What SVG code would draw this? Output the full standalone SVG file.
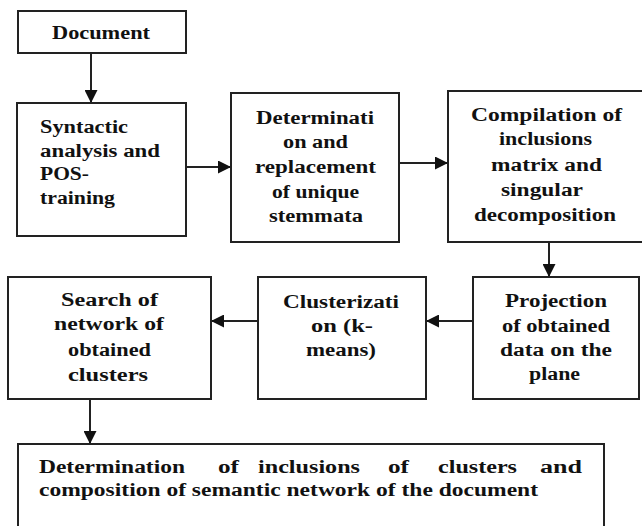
<svg xmlns="http://www.w3.org/2000/svg" width="642" height="526" viewBox="0 0 642 526">
<defs>
<style>
.box{fill:#fff;stroke:#222;stroke-width:2}
.t{font-family:"Liberation Serif","Times New Roman",serif;font-weight:bold;font-size:18px;fill:#111}
.c{text-anchor:middle}
.ln{stroke:#222;stroke-width:2;fill:none;marker-end:url(#ah)}
</style>
<marker id="ah" markerUnits="userSpaceOnUse" markerWidth="14" markerHeight="13" refX="13" refY="6.5" orient="auto">
<path d="M0,0 L13,6.5 L0,13 Z" fill="#111"/>
</marker>
</defs>
<rect width="642" height="526" fill="#fff"/>
<g id="connectors">
<line class="ln" x1="91" y1="53" x2="91" y2="103"/>
<line class="ln" x1="186" y1="167" x2="231" y2="167"/>
<line class="ln" x1="399" y1="163" x2="448" y2="163"/>
<line class="ln" x1="549" y1="242" x2="549" y2="277"/>
<line class="ln" x1="473" y1="321" x2="426" y2="321"/>
<line class="ln" x1="258" y1="321" x2="211" y2="321"/>
<line class="ln" x1="90" y1="399" x2="90" y2="444"/>
</g>
<g id="document">
<rect class="box" x="18" y="11" width="168" height="42"/>
<text class="t" x="52" y="39" textLength="98" lengthAdjust="spacingAndGlyphs">Document</text>
</g>
<g id="syntactic">
<rect class="box" x="17" y="103" width="169" height="133"/>
<text class="t" x="40" y="133" textLength="88" lengthAdjust="spacingAndGlyphs">Syntactic</text>
<text class="t" x="40" y="157" textLength="120" lengthAdjust="spacingAndGlyphs">analysis  and</text>
<text class="t" x="40" y="180" textLength="49" lengthAdjust="spacingAndGlyphs">POS-</text>
<text class="t" x="40" y="204" textLength="75" lengthAdjust="spacingAndGlyphs">training</text>
</g>
<g id="determination">
<rect class="box" x="231" y="93" width="168" height="149"/>
<text class="t" x="256" y="124" textLength="118" lengthAdjust="spacingAndGlyphs">Determinati</text>
<text class="t" x="283" y="148" textLength="65" lengthAdjust="spacingAndGlyphs">on  and</text>
<text class="t" x="255" y="173" textLength="121" lengthAdjust="spacingAndGlyphs">replacement</text>
<text class="t" x="272" y="198" textLength="87" lengthAdjust="spacingAndGlyphs">of unique</text>
<text class="t" x="269" y="222" textLength="94" lengthAdjust="spacingAndGlyphs">stemmata</text>
</g>
<g id="compilation">
<rect class="box" x="448" y="91" width="197" height="151"/>
<text class="t" x="471" y="121" textLength="151" lengthAdjust="spacingAndGlyphs">Compilation  of</text>
<text class="t" x="499" y="145" textLength="93" lengthAdjust="spacingAndGlyphs">inclusions</text>
<text class="t" x="491" y="171" textLength="111" lengthAdjust="spacingAndGlyphs">matrix  and</text>
<text class="t" x="501" y="196" textLength="82" lengthAdjust="spacingAndGlyphs">singular</text>
<text class="t" x="474" y="221" textLength="142" lengthAdjust="spacingAndGlyphs">decomposition</text>
</g>
<g id="projection">
<rect class="box" x="473" y="277" width="166" height="122"/>
<text class="t" x="505" y="307" textLength="102" lengthAdjust="spacingAndGlyphs">Projection</text>
<text class="t" x="502" y="332" textLength="108" lengthAdjust="spacingAndGlyphs">of obtained</text>
<text class="t" x="500" y="356" textLength="112" lengthAdjust="spacingAndGlyphs">data  on  the</text>
<text class="t" x="529" y="380" textLength="51" lengthAdjust="spacingAndGlyphs">plane</text>
</g>
<g id="clusterization">
<rect class="box" x="258" y="277" width="168" height="122"/>
<text class="t" x="283" y="308" textLength="116" lengthAdjust="spacingAndGlyphs">Clusterizati</text>
<text class="t" x="311" y="332" textLength="62" lengthAdjust="spacingAndGlyphs">on  (k-</text>
<text class="t" x="306" y="356" textLength="70" lengthAdjust="spacingAndGlyphs">means)</text>
</g>
<g id="search">
<rect class="box" x="8" y="277" width="203" height="122"/>
<text class="t" x="61" y="306" textLength="97" lengthAdjust="spacingAndGlyphs">Search  of</text>
<text class="t" x="54" y="330" textLength="110" lengthAdjust="spacingAndGlyphs">network  of</text>
<text class="t" x="68" y="356" textLength="83" lengthAdjust="spacingAndGlyphs">obtained</text>
<text class="t" x="68" y="381" textLength="80" lengthAdjust="spacingAndGlyphs">clusters</text>
</g>
<g id="final">
<rect class="box" x="18" y="444" width="586" height="90"/>
<text class="t" y="473"><tspan x="39" textLength="146" lengthAdjust="spacingAndGlyphs">Determination</tspan></text>
<text class="t" x="218" y="473" textLength="21" lengthAdjust="spacingAndGlyphs">of</text>
<text class="t" x="258" y="473" textLength="102" lengthAdjust="spacingAndGlyphs">inclusions</text>
<text class="t" x="388" y="473" textLength="21" lengthAdjust="spacingAndGlyphs">of</text>
<text class="t" x="438" y="473" textLength="79" lengthAdjust="spacingAndGlyphs">clusters</text>
<text class="t" x="540" y="473" textLength="42" lengthAdjust="spacingAndGlyphs">and</text>
<text class="t" x="39" y="496" textLength="499" lengthAdjust="spacingAndGlyphs">composition  of semantic  network  of the document</text>
</g>
</svg>
